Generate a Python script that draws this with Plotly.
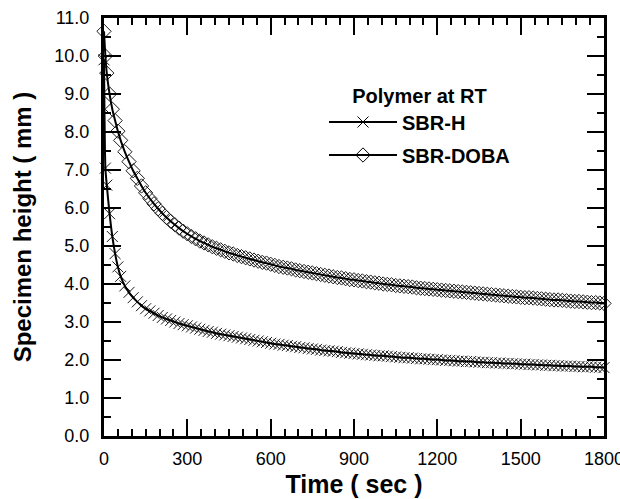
import plotly.graph_objects as go

# Time (sec)
time_s = [0, 5, 10, 20, 30, 40, 50, 60,
          75, 90, 105, 120, 135, 150, 165, 180, 195, 210, 225, 240, 255, 270, 285, 300,
          315, 330, 345, 360, 375, 390, 405, 420, 435, 450, 465, 480, 495, 510, 525, 540,
          555, 570, 585, 600, 615, 630, 645, 660, 675, 690, 705, 720, 735, 750, 765, 780,
          795, 810, 825, 840, 855, 870, 885, 900, 915, 930, 945, 960, 975, 990, 1005, 1020,
          1035, 1050, 1065, 1080, 1095, 1110, 1125, 1140, 1155, 1170, 1185, 1200, 1215, 1230,
          1245, 1260, 1275, 1290, 1305, 1320, 1335, 1350, 1365, 1380, 1395, 1410, 1425, 1440,
          1455, 1470, 1485, 1500, 1515, 1530, 1545, 1560, 1575, 1590, 1605, 1620, 1635, 1650,
          1665, 1680, 1695, 1710, 1725, 1740, 1755, 1770, 1785, 1800]

# Specimen height (mm)
sbr_h = [9.90, 7.05, 6.60, 5.85, 5.25, 4.80, 4.45, 4.20,
         3.95, 3.78, 3.64, 3.53, 3.43, 3.35, 3.29, 3.23, 3.17, 3.12, 3.08, 3.04, 3.00, 2.96, 2.93, 2.90,
         2.87, 2.84, 2.81, 2.78, 2.75, 2.73, 2.70, 2.68, 2.66, 2.64, 2.62, 2.60, 2.58, 2.56, 2.54, 2.52,
         2.50, 2.48, 2.46, 2.44, 2.42, 2.41, 2.39, 2.38, 2.36, 2.35, 2.33, 2.32, 2.30, 2.29, 2.28, 2.26,
         2.25, 2.24, 2.23, 2.22, 2.20, 2.19, 2.18, 2.17, 2.16, 2.15, 2.14, 2.13, 2.12, 2.11, 2.11, 2.10,
         2.09, 2.08, 2.07, 2.06, 2.06, 2.05, 2.04, 2.03, 2.03, 2.02, 2.01, 2.01, 2.00, 1.99,
         1.99, 1.98, 1.97, 1.97, 1.96, 1.96, 1.95, 1.94, 1.94, 1.93, 1.93, 1.92, 1.92, 1.91,
         1.91, 1.90, 1.90, 1.89, 1.89, 1.88, 1.88, 1.87, 1.87, 1.86, 1.86, 1.85, 1.85, 1.84,
         1.84, 1.84, 1.83, 1.83, 1.82, 1.82, 1.82, 1.81, 1.81, 1.80]

sbr_doba = [10.65, 10.00, 9.55, 9.00, 8.60, 8.30, 8.02, 7.78,
            7.48, 7.22, 6.98, 6.78, 6.58, 6.40, 6.25, 6.11, 5.98, 5.86, 5.75, 5.65, 5.56, 5.47, 5.39, 5.32,
            5.25, 5.19, 5.13, 5.08, 5.03, 4.98, 4.94, 4.90, 4.86, 4.82, 4.79, 4.75, 4.72, 4.69, 4.66, 4.63,
            4.60, 4.57, 4.55, 4.52, 4.49, 4.46, 4.44, 4.42, 4.40, 4.37, 4.35, 4.33, 4.31, 4.29, 4.27, 4.25,
            4.23, 4.21, 4.19, 4.17, 4.16, 4.14, 4.12, 4.11, 4.09, 4.08, 4.06, 4.05, 4.03, 4.02, 4.00, 3.99,
            3.98, 3.96, 3.95, 3.94, 3.93, 3.92, 3.90, 3.89, 3.88, 3.87, 3.86, 3.85, 3.84, 3.83,
            3.82, 3.81, 3.80, 3.79, 3.78, 3.77, 3.76, 3.75, 3.74, 3.73, 3.72, 3.71, 3.70, 3.69,
            3.68, 3.67, 3.66, 3.65, 3.64, 3.64, 3.63, 3.62, 3.61, 3.60, 3.59, 3.58, 3.58, 3.57,
            3.56, 3.55, 3.54, 3.54, 3.53, 3.52, 3.51, 3.51, 3.50, 3.49]

series_names = ["SBR-H", "SBR-DOBA"]
legend_title = "Polymer at RT"
x_ticks = [0, 300, 600, 900, 1200, 1500, 1800]
y_ticks = [0, 1, 2, 3, 4, 5, 6, 7, 8, 9, 10, 11]

FONT = "Liberation Sans, Arial, sans-serif"
symbols = ["x-thin-open", "diamond-open"]
data = [sbr_h, sbr_doba]

fig = go.Figure()
for name, sym, ys in zip(series_names, symbols, data):
    fig.add_trace(go.Scatter(
        x=time_s, y=ys, mode="markers", showlegend=False, cliponaxis=False,
        marker=dict(symbol=sym, size=11, color="#1a1a1a", line=dict(width=1, color="#1a1a1a")),
    ))
    fig.add_trace(go.Scatter(
        x=time_s, y=ys, mode="lines", showlegend=False, cliponaxis=False,
        line=dict(color="black", width=2, shape="spline", smoothing=0.6),
    ))
# legend entries
for name, sym in zip(series_names, symbols):
    fig.add_trace(go.Scatter(
        x=[None], y=[None], mode="lines+markers", name="<b>" + name + "</b>",
        legendgroup=name,
        marker=dict(symbol=sym, size=11, color="black", line=dict(width=1, color="black")),
        line=dict(color="black", width=2),
    ))

axis_common = dict(
    showgrid=False, zeroline=False, showline=True, linecolor="black", linewidth=3,
    ticks="inside", ticklen=17, tickwidth=2, tickcolor="black",
    mirror="allticks", ticklabeloverflow="allow", automargin=False,
    tickfont=dict(family=FONT, size=18, color="black"),
)

fig.update_xaxes(
    range=[0, 1800], tickvals=x_ticks, ticklabelstandoff=4,
    minor=dict(dtick=50, ticks="inside", ticklen=7, tickwidth=2, tickcolor="black"),
    title=dict(text="<b>Time ( sec )</b>", font=dict(family=FONT, size=25, color="black"), standoff=8),
    **axis_common,
)
fig.update_yaxes(
    range=[0, 11], tickvals=y_ticks, tickformat=".1f", ticklabelstandoff=8,
    minor=dict(dtick=0.5, ticks="inside", ticklen=7, tickwidth=2, tickcolor="black"),
    title=dict(text="<b>Specimen height ( mm )</b>", font=dict(family=FONT, size=24, color="black"), standoff=16),
    **axis_common,
)

fig.update_layout(
    width=620, height=499,
    margin=dict(l=104, r=16, t=18, b=63),
    paper_bgcolor="white", plot_bgcolor="white",
    font=dict(family=FONT, color="black"),
    legend=dict(
        x=0.44, y=0.86, xanchor="left", yanchor="top",
        bgcolor="rgba(0,0,0,0)", tracegroupgap=4, traceorder="grouped",
        title=dict(text="<b>" + legend_title + "</b>", side="top center",
                   font=dict(family=FONT, size=20, color="black")),
        font=dict(family=FONT, size=20, color="black"),
        itemwidth=68,
    ),
)

fig.write_html("out.html")
